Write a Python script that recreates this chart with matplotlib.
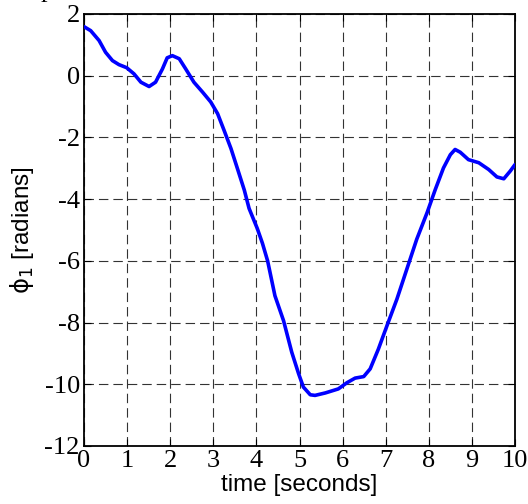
import numpy as np
import matplotlib
matplotlib.use("Agg")
import matplotlib.pyplot as plt

# joint angle phi_1 sampled along the trajectory
t = [0.00, 0.155, 0.35, 0.50, 0.66, 0.81, 0.99, 1.16, 1.32, 1.51, 1.66, 1.82,
     1.93, 2.05, 2.21, 2.36, 2.55, 2.75, 2.94, 3.10, 3.25, 3.41, 3.56, 3.72,
     3.83, 4.02, 4.14, 4.26, 4.43, 4.63, 4.82, 4.98, 5.09, 5.25, 5.36, 5.60,
     5.90, 6.10, 6.29, 6.49, 6.64, 6.83, 7.03, 7.26, 7.49, 7.72, 7.96, 8.15,
     8.34, 8.50, 8.61, 8.73, 8.92, 9.16, 9.39, 9.58, 9.74, 9.89, 10.00]
phi1 = [1.59, 1.46, 1.14, 0.76, 0.49, 0.36, 0.26, 0.06, -0.21, -0.35, -0.21, 0.22,
        0.58, 0.65, 0.55, 0.22, -0.21, -0.53, -0.85, -1.23, -1.77, -2.36, -3.01, -3.71,
        -4.30, -4.95, -5.43, -6.00, -7.13, -7.94, -8.96, -9.66, -10.09, -10.34, -10.36, -10.28,
        -10.15, -9.95, -9.80, -9.75, -9.50, -8.86, -8.10, -7.24, -6.27, -5.30, -4.44, -3.69,
        -2.99, -2.56, -2.39, -2.48, -2.72, -2.82, -3.04, -3.28, -3.34, -3.09, -2.88]

xticks = list(range(0, 11))
yticks = list(range(-12, 3, 2))

W, H = 528, 504
fig = plt.figure(figsize=(W / 100, H / 100), dpi=100)
ax = fig.add_axes([84 / W, 1 - 446 / H, (515 - 84) / W, (446 - 14) / H])

ax.plot(t, phi1, color=(0, 0, 1), lw=2.6, solid_joinstyle="round",
        solid_capstyle="round", zorder=3)

ax.set_xlim(0, 10)
ax.set_ylim(-12, 2)
ax.set_xticks(xticks)
ax.set_yticks(yticks)
ax.set_xticklabels([str(v) for v in xticks], family="Liberation Serif", fontsize=19)
ax.set_yticklabels([str(v) for v in yticks], family="Liberation Serif", fontsize=19)
ax.tick_params(direction="in", length=5, width=0.8, top=True, right=True, pad=3)

ax.grid(True, color="#333333", lw=0.8, linestyle=(0, (8.5, 4.5)))
for s in ax.spines.values():
    s.set_linewidth(1.3)

ax.set_xlabel("time [seconds]", family="Liberation Sans", fontsize=17.5, labelpad=1)
ax.set_ylabel(r"$\mathrm{\phi}_1$ [radians]", family="Liberation Sans",
              fontsize=17.5, labelpad=6)

# title text sitting just above the canvas edge
fig.text(41 / W, 1 + 3 / H, "p", family="Liberation Serif", fontsize=19,
         va="baseline", ha="left")

fig.savefig("out.png", dpi=100)
